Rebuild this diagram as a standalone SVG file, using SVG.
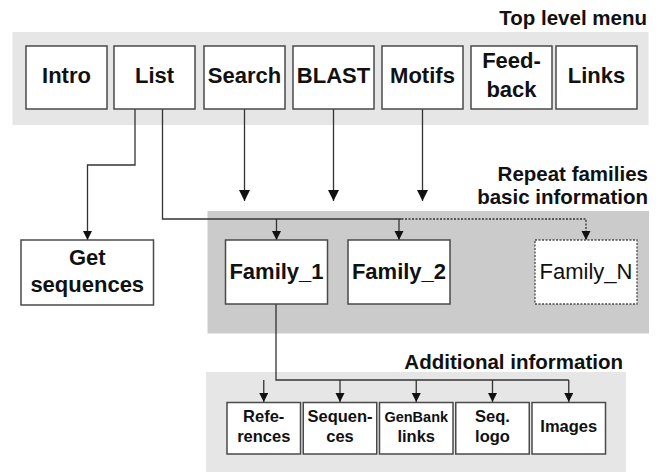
<svg xmlns="http://www.w3.org/2000/svg" width="660" height="472" viewBox="0 0 660 472">
<defs>
<style>
.panel-light{fill:#e6e6e6}
.panel-dark{fill:#cbcbcb}
.box{fill:#fff;stroke:#4a4a4a;stroke-width:1.5}
.boxd{fill:#fff;stroke:#4a4a4a;stroke-width:1.3;stroke-dasharray:2 1.5}
.h{font-family:"Liberation Sans",Arial,sans-serif;font-weight:bold;font-size:20.5px;fill:#111;text-anchor:end}
.t{font-family:"Liberation Sans",Arial,sans-serif;font-weight:bold;font-size:22px;fill:#111;text-anchor:middle}
.tn{font-family:"Liberation Sans",Arial,sans-serif;font-weight:normal;font-size:22px;fill:#111;text-anchor:middle}
.s{font-family:"Liberation Sans",Arial,sans-serif;font-weight:bold;font-size:16.5px;fill:#111;text-anchor:middle}
.sg{font-family:"Liberation Sans",Arial,sans-serif;font-weight:bold;font-size:14.5px;fill:#111;text-anchor:middle}
.ln{fill:none;stroke:#333;stroke-width:1.3}
.lnd{fill:none;stroke:#333;stroke-width:1.3;stroke-dasharray:2 1.5}
</style>
<marker id="ah" markerWidth="9" markerHeight="10" refX="9" refY="4.5" orient="auto" markerUnits="userSpaceOnUse">
<path d="M0,0 L9,4.5 L0,9 Z" fill="#111"/>
</marker>
<marker id="ahb" markerWidth="11" markerHeight="12" refX="11" refY="5.5" orient="auto" markerUnits="userSpaceOnUse">
<path d="M0,0 L11,5.5 L0,11 Z" fill="#111"/>
</marker>
</defs>

<!-- panels -->
<rect class="panel-light" x="12.5" y="32" width="636" height="93"/>
<rect class="panel-dark" x="207.5" y="211" width="441.5" height="122.5"/>
<rect class="panel-light" x="206" y="372" width="420" height="100"/>

<text class="h" x="647" y="25">Top level menu</text>
<text class="h" x="648" y="181">Repeat families</text>
<text class="h" x="648" y="204">basic information</text>
<text class="h" x="623" y="369">Additional information</text>

<!-- connectors -->
<g id="connectors">
<path class="ln" d="M135,109 V165 H87.5 V240" marker-end="url(#ah)"/>
<path class="ln" d="M162.5,109 V219 H401.5"/>
<path class="lnd" d="M401.5,219 H586 V240" marker-end="url(#ah)"/>
<path class="ln" d="M276.5,219 V240" marker-end="url(#ah)"/>
<path class="ln" d="M399,219 V240" marker-end="url(#ah)"/>
<path class="ln" d="M244.5,109 V201" marker-end="url(#ahb)"/>
<path class="ln" d="M333.5,109 V201" marker-end="url(#ahb)"/>
<path class="ln" d="M422.5,109 V201" marker-end="url(#ahb)"/>
<path class="ln" d="M276,304 V380 H568.75"/>
<path class="ln" d="M263.75,380 V402" marker-end="url(#ah)"/>
<path class="ln" d="M340,380 V402" marker-end="url(#ah)"/>
<path class="ln" d="M416.25,380 V402" marker-end="url(#ah)"/>
<path class="ln" d="M492.5,380 V402" marker-end="url(#ah)"/>
<path class="ln" d="M568.75,380 V402" marker-end="url(#ah)"/>
</g>

<!-- top menu -->
<g id="intro"><rect class="box" x="26" y="46" width="81" height="63"/><text class="t" x="66.5" y="83">Intro</text></g>
<g id="list"><rect class="box" x="114" y="46" width="81" height="63"/><text class="t" x="154.5" y="83">List</text></g>
<g id="search"><rect class="box" x="204" y="46" width="81" height="63"/><text class="t" x="244.5" y="83">Search</text></g>
<g id="blast"><rect class="box" x="293" y="46" width="81" height="63"/><text class="t" x="333.5" y="83">BLAST</text></g>
<g id="motifs"><rect class="box" x="382" y="46" width="81" height="63"/><text class="t" x="422.5" y="83">Motifs</text></g>
<g id="feedback"><rect class="box" x="471" y="46" width="81" height="63"/><text class="t" x="511.5" y="68">Feed-</text><text class="t" x="511.5" y="97">back</text></g>
<g id="links"><rect class="box" x="556" y="46" width="81" height="63"/><text class="t" x="596.5" y="83">Links</text></g>

<!-- second level -->
<g id="getseq"><rect class="box" x="21" y="240" width="132.5" height="65"/><text class="t" x="87.25" y="265">Get</text><text class="t" x="87.25" y="292">sequences</text></g>
<g id="family1"><rect class="box" x="225.5" y="240" width="102" height="64"/><text class="t" x="276.5" y="278.5">Family_1</text></g>
<g id="family2"><rect class="box" x="348" y="240" width="102" height="64"/><text class="t" x="399" y="278.5">Family_2</text></g>
<g id="familyN"><rect class="boxd" x="535" y="240" width="102" height="64"/><text class="tn" x="586" y="278.5">Family_N</text></g>

<!-- additional info -->
<g id="references"><rect class="box" x="227" y="402.5" width="73.5" height="51.5"/><text class="s" x="263.75" y="422">Refe-</text><text class="s" x="263.75" y="442">rences</text></g>
<g id="sequences"><rect class="box" x="303.25" y="402.5" width="73.5" height="51.5"/><text class="s" x="340" y="422">Sequen-</text><text class="s" x="340" y="442">ces</text></g>
<g id="genbank"><rect class="box" x="379.5" y="402.5" width="73.5" height="51.5"/><text class="sg" x="416.25" y="422">GenBank</text><text class="s" x="416.25" y="442">links</text></g>
<g id="seqlogo"><rect class="box" x="455.75" y="402.5" width="73.5" height="51.5"/><text class="s" x="492.5" y="422">Seq.</text><text class="s" x="492.5" y="442">logo</text></g>
<g id="images"><rect class="box" x="532" y="402.5" width="73.5" height="51.5"/><text class="s" x="568.75" y="432">Images</text></g>
</svg>
